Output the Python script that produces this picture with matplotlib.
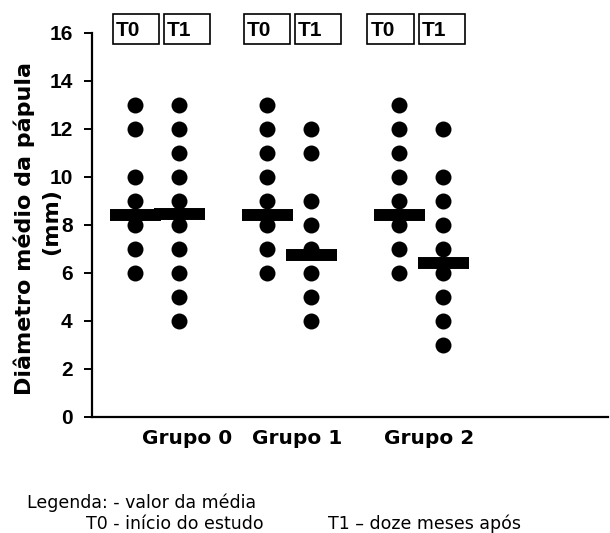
import matplotlib
matplotlib.use("Agg")
import matplotlib.pyplot as plt
from matplotlib.patches import Rectangle

# Papule diameter (mm) per group, at start (T0) and after twelve months (T1)
groups = ["Grupo 0", "Grupo 1", "Grupo 2"]
times = ["T0", "T1"]
g0_t0 = [13, 12, 10, 9, 8, 7, 6]
g0_t1 = [13, 12, 11, 10, 9, 8, 7, 6, 5, 4]
g1_t0 = [13, 12, 11, 10, 9, 8, 7, 6]
g1_t1 = [12, 11, 9, 8, 7, 6, 5, 4]
g2_t0 = [13, 12, 11, 10, 9, 8, 7, 6]
g2_t1 = [12, 10, 9, 8, 7, 6, 5, 4, 3]
means_t0 = [8.4, 8.4, 8.4]
means_t1 = [8.45, 6.75, 6.4]
y_ticks = [0, 2, 4, 6, 8, 10, 12, 14, 16]

series = [[g0_t0, g0_t1], [g1_t0, g1_t1], [g2_t0, g2_t1]]
means = [[means_t0[i], means_t1[i]] for i in range(len(groups))]

W, H, DPI = 610, 533, 100
fig = plt.figure(figsize=(W / DPI, H / DPI), dpi=DPI)
ax = fig.add_axes([92 / W, 116 / H, 516 / W, 384 / H])

unit = 132.0          # pixels per group step
off = 22.0 / unit     # half distance between T0 and T1 columns
bar_half = 25.5 / unit

for gi, (pair, mpair) in enumerate(zip(series, means)):
    for ti, (vals, m) in enumerate(zip(pair, mpair)):
        x = gi + (-off if ti == 0 else off)
        ax.plot([x] * len(vals), vals, "o", color="black", markersize=11.5,
                markeredgewidth=0, clip_on=False, zorder=3)
        ax.hlines(m, x - bar_half, x + bar_half, color="black",
                  linewidth=8.6, capstyle="butt", zorder=4)

ax.set_xlim(-65 / unit, 451 / unit)
ax.set_ylim(0, 16)
ax.set_yticks(y_ticks)
ax.set_yticklabels([str(t) for t in y_ticks], fontfamily="Liberation Sans",
                   fontweight="bold", fontsize=15)
ax.set_xticks([])
ax.tick_params(axis="y", length=6, width=1.4, pad=8, color="black")
for side in ("top", "right"):
    ax.spines[side].set_visible(False)
for side in ("left", "bottom"):
    ax.spines[side].set_linewidth(1.6)

# Group names under the axis
label_shift = [30, 8, 8]
for gi, name in enumerate(groups):
    ax.annotate(name, xy=(gi, 0), xycoords="data",
                xytext=(label_shift[gi] * 0.72, -27 * 0.72), textcoords="offset points",
                ha="center", va="baseline", fontfamily="DejaVu Sans",
                fontweight="bold", fontsize=14.5)

# T0 / T1 boxes above each group
box_w, box_h, box_gap = 46, 30, 5
pair_shift = [4, 3, -5]
for gi in range(len(groups)):
    cx_pix = 92 + (gi - ax.get_xlim()[0]) * unit + pair_shift[gi]
    for ti, t in enumerate(times):
        left = cx_pix - box_gap / 2 - box_w if ti == 0 else cx_pix + box_gap / 2
        top = 14
        fig.patches.append(Rectangle((left / W, (H - top - box_h) / H), box_w / W, box_h / H,
                                     transform=fig.transFigure, fill=False,
                                     edgecolor="black", linewidth=1.2))
        fig.text((left + 3) / W, (H - 36.5) / H, t, ha="left", va="baseline",
                 fontfamily="Liberation Sans", fontweight="bold", fontsize=15)

# Y axis title, two lines
fig.text(24 / W, 1 - 228 / H, "Diâmetro médio da pápula", rotation=90,
         ha="center", va="center", fontfamily="DejaVu Sans", fontweight="bold",
         fontsize=16)
fig.text(51 / W, 1 - 222 / H, "(mm)", rotation=90, ha="center", va="center",
         fontfamily="DejaVu Sans", fontweight="bold", fontsize=16)

# Key below the chart
key_font = dict(fontfamily="DejaVu Sans", fontsize=12.5, ha="left", va="baseline")
fig.text(27 / W, 1 - 508 / H, "Legenda: - valor da média", **key_font)
fig.text(86 / W, 1 - 529 / H, "T0 - início do estudo", **key_font)
fig.text(328 / W, 1 - 529 / H, "T1 – doze meses após", **key_font)

fig.savefig("out.png", dpi=DPI)
